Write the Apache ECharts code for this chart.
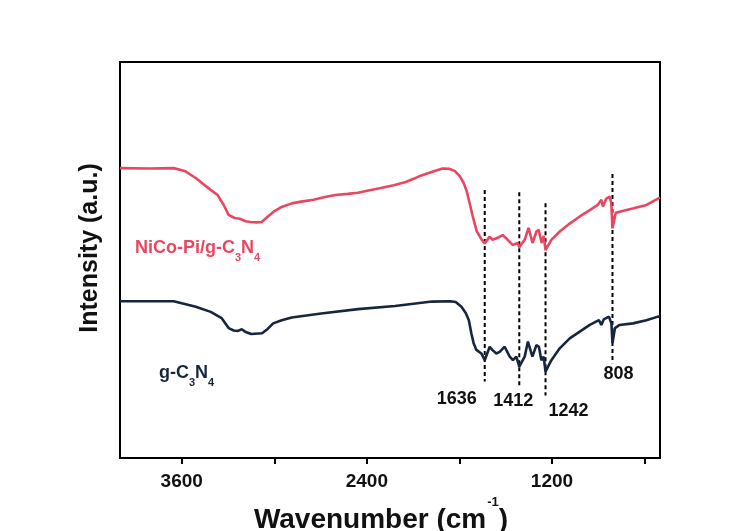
<!DOCTYPE html>
<html>
<head>
<meta charset="utf-8">
<script src="https://cdn.jsdelivr.net/npm/echarts@6/dist/echarts.min.js"></script>
<style>
  html, body { margin: 0; padding: 0; background: #ffffff; }
  #chart { width: 752px; height: 531px; }
</style>
</head>
<body>
<div id="chart"></div>
<script>
// FTIR spectra: [wavenumber (cm-1), intensity (a.u.)]
const nicoSpectrum = [
  [4000,73.2],[3808,73.1],[3652,73.2],[3581,72.5],[3509,70.7],[3419,67.9],[3367,66.4],[3328,63.9],
  [3296,61.4],[3257,60.6],[3224,60.4],[3185,59.8],[3153,59.6],[3114,59.5],[3082,59.6],[3043,60.9],
  [3004,62.2],[2952,63.4],[2887,64.3],[2816,64.8],[2745,65.2],[2673,65.9],[2602,66.4],[2524,66.7],
  [2459,67.0],[2382,67.6],[2317,68.1],[2226,68.9],[2148,69.7],[2097,70.5],[2051,71.3],[1980,72.2],
  [1909,73.1],[1863,73.0],[1831,72.5],[1798,71.2],[1772,69.4],[1753,67.4],[1734,64.4],[1714,61.1],
  [1688,57.3],[1655,55.1],[1636,54.2],[1604,55.9],[1585,55.1],[1552,55.6],[1520,56.3],[1487,55.1],
  [1455,53.8],[1422,54.3],[1412,53.2],[1377,55.1],[1352,58.1],[1326,54.3],[1301,57.2],[1286,57.6],
  [1267,54.3],[1254,56.1],[1242,52.5],[1204,55.1],[1150,57.2],[1085,59.2],[1020,61.0],[955,62.6],
  [904,63.9],[880,65.2],[870,63.5],[848,65.5],[826,66.0],[816,64.4],[808,58.0],[787,61.9],
  [750,62.3],[677,63.0],[587,63.9],[513,65.5],[500,65.7]
];
const gcnSpectrum = [
  [4000,39.6],[3652,39.6],[3509,38.2],[3412,36.9],[3341,35.3],[3296,32.8],[3263,32.2],[3235,32.1],
  [3211,32.5],[3185,31.8],[3150,31.3],[3079,31.5],[3043,32.6],[3007,34.0],[2952,34.8],[2887,35.5],
  [2696,36.5],[2457,37.6],[2218,38.4],[1978,39.5],[1859,39.6],[1824,39.4],[1787,38.2],[1759,36.6],
  [1739,34.8],[1723,31.5],[1708,29.0],[1690,27.3],[1658,26.4],[1636,24.7],[1604,28.1],[1587,27.3],
  [1561,26.4],[1539,26.8],[1507,28.1],[1474,25.6],[1453,24.7],[1431,25.6],[1412,23.1],[1377,25.6],
  [1356,29.4],[1327,25.6],[1301,28.5],[1285,28.1],[1269,24.7],[1254,25.6],[1242,21.8],[1204,24.7],
  [1150,27.7],[1085,30.2],[1020,31.9],[955,33.6],[896,34.8],[880,33.6],[865,35.0],[831,35.7],
  [815,34.0],[808,29.0],[792,32.8],[762,33.6],[675,34.0],[588,34.8],[513,35.7],[500,35.7]
];

// Marked bands: position, dashed guide top and bottom (a.u.)
const peakPositions = [1636, 1412, 1242, 808];
const peakLineTop = [67.7, 67.1, 64.3, 71.7];
const peakLineBottom = [19.3, 18.4, 15.8, 23.9];

// Axis ticks
const xTickValues = [600, 1200, 1800, 2400, 3000, 3600];
const xLabelValues = [1200, 2400, 3600];

const RED = '#e9475f';
const NAVY = '#16263e';
const FONT = '"Liberation Sans", Arial, Helvetica, sans-serif';

// label offsets for each band number, relative to the lower end of its guide
const peakLabelOffsets = [[-28, 17], [-6, 16], [23, 15.5], [6, 11]];

const peakSeries = peakPositions.map((wn, i) => ({
  type: 'line',
  silent: true,
  symbol: 'circle',
  symbolSize: 0,
  lineStyle: { color: '#000', width: 2, type: [4, 3] },
  data: [
    { value: [wn, peakLineTop[i]] },
    {
      value: [wn, peakLineBottom[i]],
      label: {
        show: true,
        position: 'inside',
        offset: peakLabelOffsets[i],
        formatter: (p) => String(p.value[0]),
        color: '#111',
        fontFamily: FONT,
        fontWeight: 'bold',
        fontSize: 18
      }
    }
  ],
  z: 1
}));

const chart = echarts.init(document.getElementById('chart'), null, { renderer: 'canvas' });

function chemLabel(parts, color) {
  return {
    fill: color,
    text: parts,
    rich: {
      m: { fontFamily: FONT, fontWeight: 'bold', fontSize: 18, lineHeight: 18, fill: color },
      s: { fontFamily: FONT, fontWeight: 'bold', fontSize: 11, lineHeight: 11, padding: [18, 0, 0, 0], fill: color }
    }
  };
}

chart.setOption({
  animation: false,
  backgroundColor: '#ffffff',
  grid: {
    left: 120, right: 92, top: 62, bottom: 73,
    containLabel: false,
    outerBoundsMode: 'none',
    show: true,
    borderColor: '#000',
    borderWidth: 2,
    backgroundColor: 'transparent'
  },
  xAxis: {
    type: 'value',
    min: 500,
    max: 4000,
    inverse: true,
    name: '{t|Wavenumber (cm}{sup|-1}{t|)}',
    nameLocation: 'middle',
    nameGap: 34,
    nameTextStyle: {
      padding: [0, 18, 0, 0],
      rich: {
        t: { fontFamily: FONT, fontWeight: 'bold', fontSize: 28, lineHeight: 28, color: '#111' },
        sup: { fontFamily: FONT, fontWeight: 'bold', fontSize: 13, lineHeight: 13, padding: [0, 0, 35, 1], color: '#111' }
      }
    },
    axisLine: { show: true, onZero: false, lineStyle: { color: '#000', width: 2 } },
    axisTick: { show: true, inside: false, length: 6, customValues: xTickValues, lineStyle: { color: '#000', width: 2 } },
    axisLabel: {
      show: true,
      customValues: xLabelValues,
      formatter: (v) => String(v),
      margin: 14,
      color: '#111',
      fontFamily: FONT,
      fontWeight: 'bold',
      fontSize: 19
    },
    splitLine: { show: false }
  },
  yAxis: {
    type: 'value',
    min: 0,
    max: 100,
    name: 'Intensity (a.u.)',
    nameLocation: 'middle',
    nameRotate: 90,
    nameGap: 17,
    nameTextStyle: {
      fontFamily: FONT, fontWeight: 'bold', fontSize: 25, color: '#111',
      padding: [0, 0, 0, 24]
    },
    axisLine: { show: true, lineStyle: { color: '#000', width: 2 } },
    axisTick: { show: false },
    axisLabel: { show: false },
    splitLine: { show: false }
  },
  series: [
    {
      name: 'NiCo-Pi/g-C3N4',
      type: 'line',
      data: nicoSpectrum,
      showSymbol: false,
      smooth: false,
      lineStyle: { color: RED, width: 2.6 },
      z: 3
    },
    {
      name: 'g-C3N4',
      type: 'line',
      data: gcnSpectrum,
      showSymbol: false,
      smooth: false,
      lineStyle: { color: NAVY, width: 2.6 },
      z: 3
    },
    ...peakSeries
  ],
  graphic: [
    {
      type: 'text',
      left: 135,
      top: 234,
      style: chemLabel('{m|NiCo-Pi/g-C}{s|3}{m|N}{s|4}', RED)
    },
    {
      type: 'text',
      left: 159,
      top: 359,
      style: chemLabel('{m|g-C}{s|3}{m|N}{s|4}', NAVY)
    }
  ]
});
</script>
</body>
</html>
